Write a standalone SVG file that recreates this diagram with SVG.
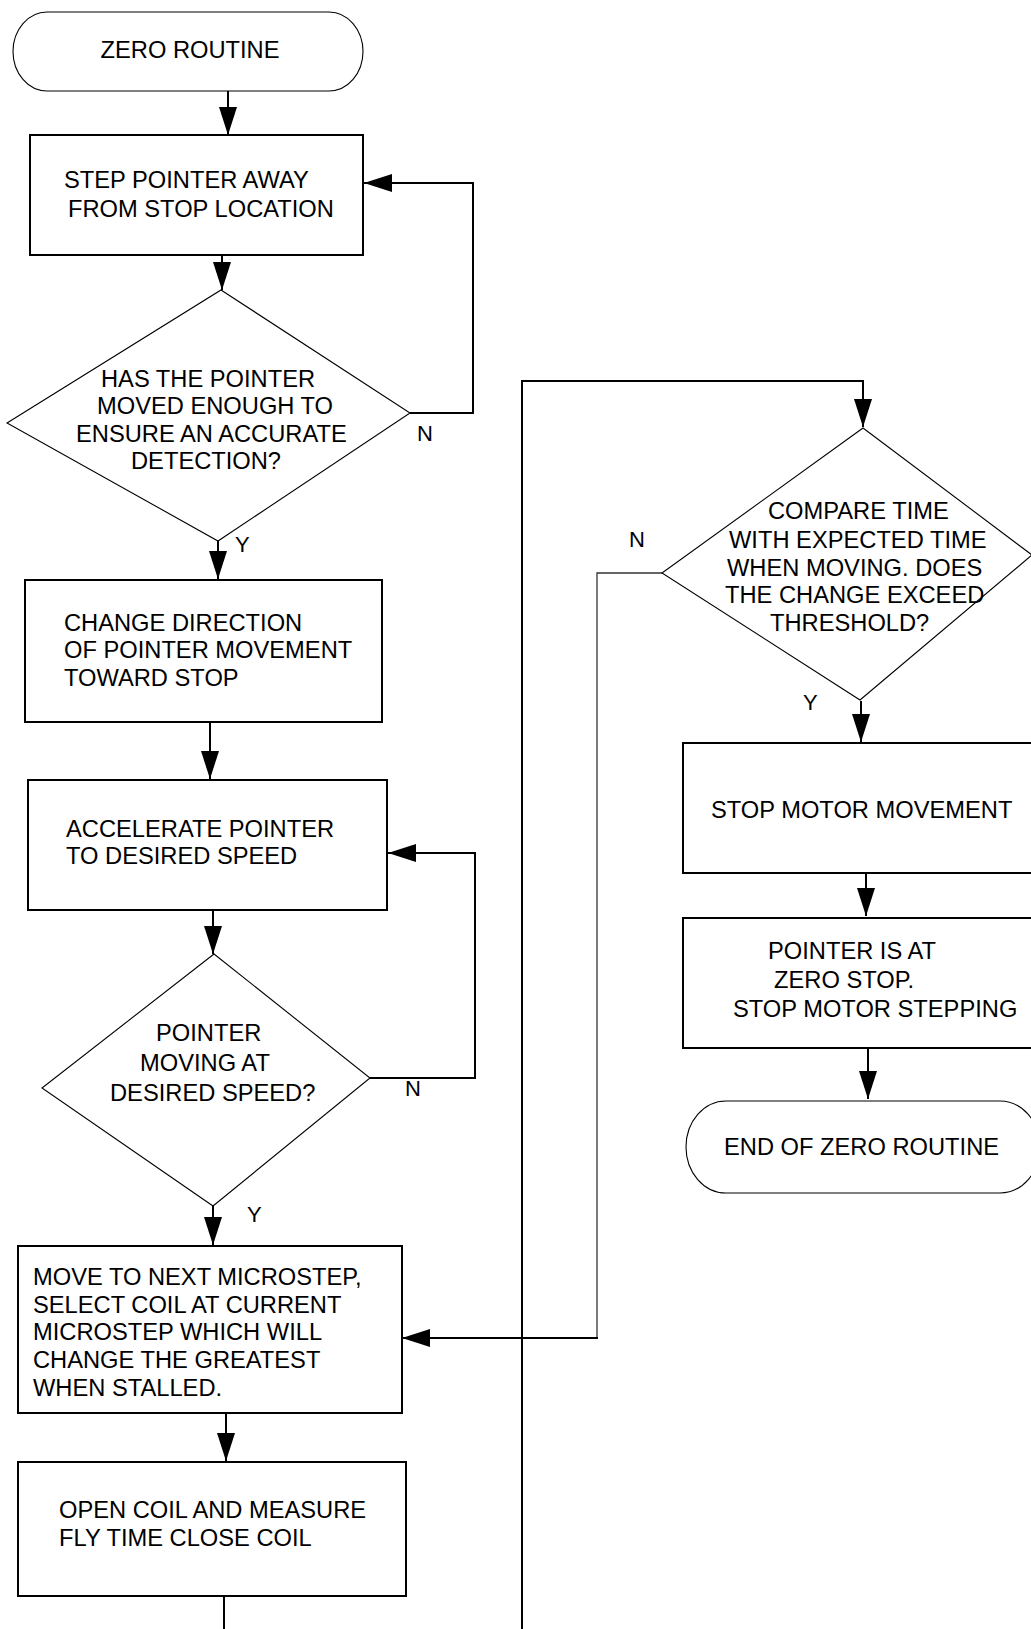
<svg xmlns="http://www.w3.org/2000/svg" width="1031" height="1629" viewBox="0 0 1031 1629">
<style>
  .box{fill:#fff;stroke:#000;stroke-width:2}
  .thin{fill:#fff;stroke:#000;stroke-width:1.1}
  .t{font-family:"Liberation Sans",Arial,sans-serif;font-size:23.7px;fill:#000}
  .lbl{font-family:"Liberation Sans",Arial,sans-serif;font-size:22px;fill:#000}
  .c{fill:none;stroke:#000;stroke-width:2}
  .cg{fill:none;stroke:#333;stroke-width:1.3}
</style>
<defs>
  <marker id="ah" markerUnits="userSpaceOnUse" markerWidth="29" markerHeight="18" refX="28" refY="9" orient="auto">
    <path d="M0,0 L28,9 L0,18 z" fill="#000"/>
  </marker>
</defs>
<rect width="1031" height="1629" fill="#fff"/>

<g id="connectors">
  <line class="c" x1="228" y1="91" x2="228" y2="135" marker-end="url(#ah)"/>
  <line class="c" x1="222" y1="255" x2="222" y2="290" marker-end="url(#ah)"/>
  <path class="c" d="M410,413 H473 V183 H364" marker-end="url(#ah)"/>
  <line class="c" x1="218" y1="541" x2="218" y2="579" marker-end="url(#ah)"/>
  <line class="c" x1="210" y1="722" x2="210" y2="779" marker-end="url(#ah)"/>
  <line class="c" x1="213" y1="910" x2="213" y2="954" marker-end="url(#ah)"/>
  <path class="c" d="M370,1078 H475 V853 H388" marker-end="url(#ah)"/>
  <line class="c" x1="213" y1="1206" x2="213" y2="1245" marker-end="url(#ah)"/>
  <path class="cg" d="M662,573 H597 V1338"/>
  <line class="c" x1="598" y1="1338" x2="402" y2="1338" marker-end="url(#ah)"/>
  <line class="c" x1="226" y1="1413" x2="226" y2="1461" marker-end="url(#ah)"/>
  <line class="c" x1="224" y1="1596" x2="224" y2="1640"/>
  <path class="c" d="M522,1640 V381 H863 V427" marker-end="url(#ah)"/>
  <line class="c" x1="861" y1="701" x2="861" y2="742" marker-end="url(#ah)"/>
  <line class="c" x1="866" y1="872" x2="866" y2="916" marker-end="url(#ah)"/>
  <line class="c" x1="868" y1="1048" x2="868" y2="1099" marker-end="url(#ah)"/>
  <text class="lbl" x="417" y="441">N</text>
  <text class="lbl" x="235" y="552">Y</text>
  <text class="lbl" x="405" y="1096">N</text>
  <text class="lbl" x="247" y="1222">Y</text>
  <text class="lbl" x="629" y="547">N</text>
  <text class="lbl" x="803" y="710">Y</text>
</g>

<g id="start">
  <rect class="thin" x="13" y="12" width="350" height="79" rx="34" ry="39.5"/>
  <text class="t" x="190" y="58" text-anchor="middle">ZERO ROUTINE</text>
</g>

<g id="step-away">
  <rect class="box" x="30" y="135" width="333" height="120"/>
  <text class="t" x="64" y="188">STEP POINTER AWAY</text>
  <text class="t" x="68" y="217">FROM STOP LOCATION</text>
</g>

<g id="moved-enough">
  <polygon class="thin" points="221,290 410,413 218,541 7,423"/>
  <text class="t" x="101" y="387">HAS THE POINTER</text>
  <text class="t" x="97" y="414">MOVED ENOUGH TO</text>
  <text class="t" x="76" y="442">ENSURE AN ACCURATE</text>
  <text class="t" x="131" y="469">DETECTION?</text>
</g>

<g id="change-direction">
  <rect class="box" x="25" y="580" width="357" height="142"/>
  <text class="t" x="64" y="631">CHANGE DIRECTION</text>
  <text class="t" x="64" y="658">OF POINTER MOVEMENT</text>
  <text class="t" x="64" y="686">TOWARD STOP</text>
</g>

<g id="accelerate">
  <rect class="box" x="28" y="780" width="359" height="130"/>
  <text class="t" x="66" y="837">ACCELERATE POINTER</text>
  <text class="t" x="66" y="864">TO DESIRED SPEED</text>
</g>

<g id="desired-speed">
  <polygon class="thin" points="214,954 370,1078 213,1206 42,1088"/>
  <text class="t" x="156" y="1041">POINTER</text>
  <text class="t" x="140" y="1071">MOVING AT</text>
  <text class="t" x="110" y="1101">DESIRED SPEED?</text>
</g>

<g id="next-microstep">
  <rect class="box" x="18" y="1246" width="384" height="167"/>
  <text class="t" x="33" y="1285">MOVE TO NEXT MICROSTEP,</text>
  <text class="t" x="33" y="1313">SELECT COIL AT CURRENT</text>
  <text class="t" x="33" y="1340">MICROSTEP WHICH WILL</text>
  <text class="t" x="33" y="1368">CHANGE THE GREATEST</text>
  <text class="t" x="33" y="1396">WHEN STALLED.</text>
</g>

<g id="open-coil">
  <rect class="box" x="18" y="1462" width="388" height="134"/>
  <text class="t" x="59" y="1518">OPEN COIL AND MEASURE</text>
  <text class="t" x="59" y="1546">FLY TIME CLOSE COIL</text>
</g>

<g id="compare-time">
  <polygon class="thin" points="863,428 1032,555 860,700 662,573"/>
  <text class="t" x="768" y="519">COMPARE TIME</text>
  <text class="t" x="729" y="548">WITH EXPECTED TIME</text>
  <text class="t" x="727" y="576">WHEN MOVING. DOES</text>
  <text class="t" x="725" y="603">THE CHANGE EXCEED</text>
  <text class="t" x="770" y="631">THRESHOLD?</text>
</g>

<g id="stop-motor">
  <rect class="box" x="683" y="743" width="362" height="130"/>
  <text class="t" x="711" y="818">STOP MOTOR MOVEMENT</text>
</g>

<g id="at-zero">
  <rect class="box" x="683" y="918" width="362" height="130"/>
  <text class="t" x="768" y="959">POINTER IS AT</text>
  <text class="t" x="774" y="988">ZERO STOP.</text>
  <text class="t" x="733" y="1017">STOP MOTOR STEPPING</text>
</g>

<g id="end">
  <rect class="thin" x="686" y="1101" width="354" height="92" rx="40" ry="46"/>
  <text class="t" x="724" y="1155">END OF ZERO ROUTINE</text>
</g>
</svg>
